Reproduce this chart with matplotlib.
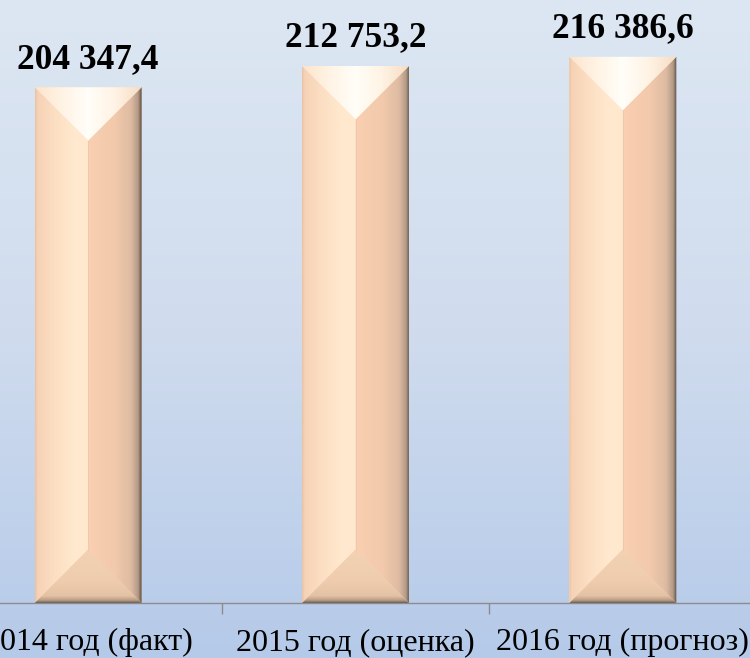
import numpy as np
import matplotlib.pyplot as plt
from matplotlib.colors import LinearSegmentedColormap
from matplotlib.patches import Polygon

plt.rcParams['font.family'] = ['Liberation Serif', 'DejaVu Serif']

# данные
categories = ['2014 год (факт)', '2015 год (оценка)', '2016 год (прогноз)']
values = [204347.4, 212753.2, 216386.6]
value_labels = ['204 347,4', '212 753,2', '216 386,6']

fig = plt.figure(figsize=(7.5, 6.58), dpi=100)

# фон с градиентом
bg = fig.add_axes([0, 0, 1, 1], zorder=0)
bg.set_axis_off()
grad = np.linspace(0, 1, 256).reshape(-1, 1)
bg_cmap = LinearSegmentedColormap.from_list('bg', ['#DDE7F3', '#D0DCEE', '#B5CAE9'])
bg.imshow(grad, aspect='auto', cmap=bg_cmap, extent=[0, 1, 0, 1], origin='upper')

ax = fig.add_axes([-45.5 / 750, 55 / 658, 802 / 750, 605.8 / 658], zorder=1)
ax.patch.set_alpha(0)
ax.set_xlim(-0.5, 2.5)
ax.set_ylim(0, 240000)

x = np.arange(len(categories))
w = 0.40
bars = ax.bar(x, values, width=w, color='#F9D8BC', zorder=2)

# глубина фаски: 45 градусов в пикселях
fig.canvas.draw()
p0 = ax.transData.transform((0, 0))
p1 = ax.transData.transform((w / 2, 0))
half_px = p1[0] - p0[0]
depth = ax.transData.inverted().transform((p0[0], p0[1] + half_px))[1]

cm_left = LinearSegmentedColormap.from_list(
    'l', [(0, '#E8C2A4'), (0.05, '#F6D2B6'), (0.35, '#FCDEC2'), (0.7, '#FFE8CD'), (1, '#FFE9CE')])
cm_right = LinearSegmentedColormap.from_list(
    'r', [(0, '#FACFB2'), (0.5, '#F2C9AB'), (0.8, '#DDBBA2'), (0.93, '#B49A86'), (1, '#554C44')])
cm_top = LinearSegmentedColormap.from_list('t', ['#FCE4CC', '#FFF3E4', '#FFFEF8', '#FFF3E4', '#F6DCC4'])
cm_bot = LinearSegmentedColormap.from_list(
    'b', [(0, '#6A5E55'), (0.05, '#B89C86'), (0.13, '#E4C2A4'), (0.4, '#EFCCAE'), (1, '#F3D2B4')])

for b, v, lab in zip(bars, values, value_labels):
    x0 = b.get_x()
    x1 = x0 + b.get_width()
    c = (x0 + x1) / 2
    faces = [
        ([(x0, 0), (c, depth), (c, v - depth), (x0, v)], cm_left, 'h', (x0, c)),
        ([(x1, 0), (c, depth), (c, v - depth), (x1, v)], cm_right, 'h', (c, x1)),
        ([(x0, v), (x1, v), (c, v - depth)], cm_top, 'h', (x0, x1)),
        ([(x0, 0), (x1, 0), (c, depth)], cm_bot, 'v', (0, depth)),
    ]
    for pts, cmap, mode, (a0, a1) in faces:
        poly = Polygon(pts, closed=True, facecolor='none', edgecolor='none', zorder=3)
        ax.add_patch(poly)
        if mode == 'h':
            img = np.linspace(0, 1, 256).reshape(1, -1)
            ext = [a0, a1, 0, v]
        else:
            img = np.linspace(0, 1, 256).reshape(-1, 1)
            ext = [x0, x1, a0, a1]
        im = ax.imshow(img, cmap=cmap, aspect='auto', extent=ext, origin='lower',
                       zorder=3, interpolation='bilinear')
        im.set_clip_path(poly)
    ax.plot([c, c], [depth, v - depth], color='#EDC8AC', lw=0.6, zorder=4)
    ax.annotate(lab, (c, v), xytext=(0, 14),
                textcoords='offset points', ha='center', va='baseline',
                fontsize=25.5, fontweight='bold', color='black', zorder=5)

ax.set_xlim(-0.5, 2.5)
ax.set_ylim(0, 240000)
ax.set_xticks(x)
ax.set_xticklabels(categories, fontsize=23)
ax.tick_params(axis='x', which='major', length=0, pad=18)
ax.set_xticks([0.5, 1.5], minor=True)
ax.tick_params(axis='x', which='minor', length=8, color='#8C8C8C', width=1)
ax.set_yticks([])
for s in ['left', 'top', 'right']:
    ax.spines[s].set_visible(False)
ax.spines['bottom'].set_color('#8C8C8C')
ax.spines['bottom'].set_linewidth(1)

fig.savefig('out.png', dpi=100)
